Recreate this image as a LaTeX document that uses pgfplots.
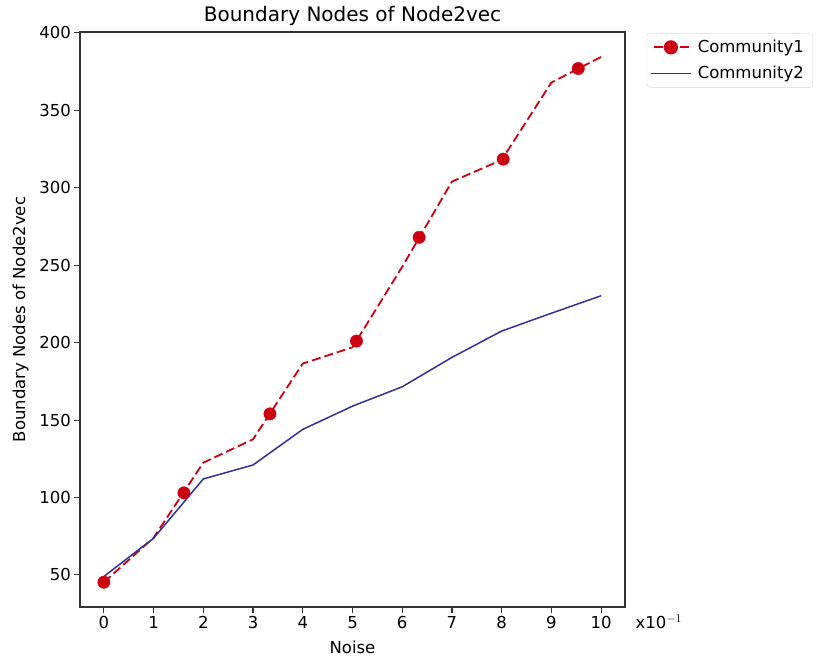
\documentclass[border=0pt]{standalone}
\usepackage{pgfplots}
\pgfplotsset{compat=1.18}
\usepackage{fontspec}
\setmainfont{DejaVu Sans}
\usetikzlibrary{calc}
\definecolor{cred}{RGB}{204,0,17}
\definecolor{cblue}{RGB}{48,48,150}
\begin{document}
\begin{tikzpicture}
  \begin{axis}[
    name=ax,
    scale only axis,
    width=545bp, height=575bp,
    xmin=-0.48, xmax=10.48,
    ymin=29.3, ymax=400.6,
    xtick={0,1,...,10},
    ytick={50,100,...,400},
    xtick pos=bottom, ytick pos=left,
    tick align=outside,
    major tick length=5.5bp,
    tick style={line width=1.1bp,black!80},
    axis line style={line width=1.2bp,black!80},
    /pgf/number format/assume math mode=true,
    tick label style={font=\fontsize{16.5bp}{19bp}\selectfont},
    label style={font=\fontsize{16.5bp}{19bp}\selectfont},
    xlabel style={yshift=-6bp},
    ylabel style={yshift=4bp},
    title style={font=\fontsize{20bp}{23bp}\selectfont, yshift=-3bp},
    title={Boundary Nodes of Node2vec},
    xlabel={Noise},
    ylabel={Boundary Nodes of Node2vec},
    legend style={
      at={(1.04,0.998)}, anchor=north west,
      font=\fontsize{16.5bp}{19bp}\selectfont,
      draw=black!15, rounded corners=3bp,
      cells={anchor=west},
      nodes={inner xsep=6bp, inner ysep=3bp},
      inner xsep=3bp, inner ysep=4bp, row sep=6bp},
    legend image code/.code={
      \draw[#1] (0bp,0bp) -- (40bp,0bp);
      \draw[#1,mark repeat=1] plot coordinates {(20bp,0bp)};}
  ]
    % Community1 line
    \addplot[color=cred, line width=1.8bp, dash pattern=on 9bp off 4bp, forget plot] coordinates {
      (0, 45.3) (1, 74) (2, 122.5) (3, 137.6) (4, 186.5) (5, 197)
      (6, 249) (7, 304) (8, 318) (9, 368) (10, 384.5)
    };
    % Community1 markers (as drawn along the line)
    \addplot[color=cred, only marks, mark=*, mark size=6.2bp, forget plot] coordinates {
      (0, 45.3) (1.61, 103) (3.34, 154) (5.08, 201)
      (6.34, 268) (8.03, 318.5) (9.54, 377)
    };
    \addlegendimage{color=cred, line width=1.8bp, dash pattern=on 9bp off 4bp, dash phase=-3bp, mark=*, mark size=6.2bp, mark options={solid}}
    \addlegendentry{Community1}
    % Community2
    \addplot[color=cblue, line width=1.5bp] coordinates {
      (0, 49) (1, 73.7) (2, 112) (3, 121) (4, 144) (5, 159)
      (6, 171.5) (7, 190.5) (8, 207.5) (9, 219) (10, 230.3)
    };
    \addlegendentry{Community2}
  \end{axis}
  \node[anchor=west, font=\fontsize{16.5bp}{19bp}\selectfont] at ($(ax.south east)+(7bp,-15bp)$) {x10$^{-1}$};
  \pgfresetboundingbox
  \path[use as bounding box] ($(ax.south west)+(-80bp,-57bp)$) rectangle ($(ax.north east)+(194bp,32bp)$);
\end{tikzpicture}
\end{document}
